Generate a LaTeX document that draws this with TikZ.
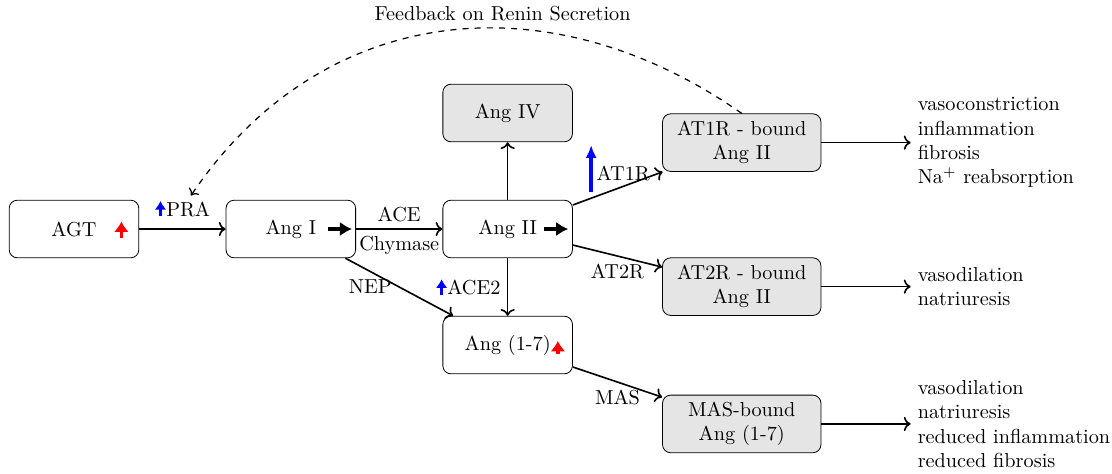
\documentclass[tikz,border=0pt]{standalone}
\usepackage{amsmath,amssymb}
\usepackage{tikz}
\usetikzlibrary{arrows.meta,positioning}

% small coloured "increase" arrows used inside labels
\newcommand{\upsmall}{\tikz[baseline=0pt]\draw[blue, line width=1.3pt, -{Latex[length=1.5mm,width=2mm]}] (0,0) -- (0,0.27);}
\newcommand{\upbig}{\smash{\tikz[baseline=0pt]\draw[blue, line width=1.8pt, -{Latex[length=2.2mm,width=1.9mm]}] (0,-0.2) -- (0,0.62);}}

\begin{document}
\begin{tikzpicture}[
  node distance=1.5cm,
  box/.style={draw, rounded corners, align=center, minimum width=2.25cm, minimum height=1cm},
  rbox/.style={box, fill=gray!20, minimum width=2.75cm},
  effect/.style={align=left},
  arrow/.style={->, thick},
  redup/.style={red, line width=1.7pt, -{Latex[length=1.8mm,width=2.6mm]}},
  blackright/.style={black, line width=1.7pt, -{Latex[length=2.1mm,width=2.5mm]}}
]
\useasboundingbox (-1.285,-4.253) rectangle (18.02,3.976);

\node[box] (agt) at (0,0) {AGT};
\node[box, right=of agt] (angI) {Ang I};
\node[box, right=of angI] (angII) {Ang II};
\node[box, fill=gray!20, above=1cm of angII] (angIV) {Ang IV};
\node[box, below=1cm of angII] (ang17) {Ang (1-7)};

\node[rbox, right=1.55cm of angII, yshift=1.5cm] (at1r) {AT1R - bound\\Ang II};
\node[rbox, right=1.55cm of angII, yshift=-1cm] (at2r) {AT2R - bound\\Ang II};
\node[rbox, right=1.55cm of ang17, yshift=-1.37cm] (mas) {MAS-bound\\Ang (1-7)};

\node[effect, right=1.55cm of at1r] (effAT1) {vasoconstriction\\inflammation\\fibrosis\\Na$^+$ reabsorption};
\node[effect, right=1.55cm of at2r] (effAT2) {vasodilation\\natriuresis};
\node[effect, right=1.55cm of mas] (effMAS) {vasodilation\\natriuresis\\reduced inflammation\\reduced fibrosis};

% increase / decrease marks inside the boxes
\draw[redup] ([xshift=-3.1mm,yshift=-1.6mm]agt.east) -- ([xshift=-3.1mm,yshift=1.3mm]agt.east);
\draw[redup] ([xshift=-2.6mm,yshift=-1.6mm]ang17.east) -- ([xshift=-2.6mm,yshift=0.7mm]ang17.east);
\draw[blackright] ([xshift=-4.9mm]angI.east) -- ([xshift=-0.7mm]angI.east);
\draw[blackright] ([xshift=-5mm]angII.east) -- ([xshift=-0.8mm]angII.east);

\draw[arrow] (agt) -- node[above, yshift=2pt] {\upsmall PRA} (angI);
\draw[arrow] (angI) -- node[above] {ACE} node[below] {Chymase} (angII);
\draw[arrow] (angII) -- (angIV);
\draw[arrow] (angII) -- node[left] {\upsmall ACE2} (ang17);
\draw[arrow] (angI) -- node[left] {NEP} (ang17);
\draw[arrow] (angII) -- node[above] {\upbig AT1R} (at1r);
\draw[arrow] (angII) -- node[below] {AT2R} (at2r);
\draw[arrow] (ang17) -- node[below] {MAS} (mas);

\draw[arrow] (at1r) -- (effAT1);
\draw[arrow] (at2r) -- (effAT2);
\draw[arrow] (mas) -- (effMAS);

% feedback loop
\coordinate (fb) at (2.03,0.58);
\draw[->, semithick, dashed] (at1r.north) to[out=145, in=56, looseness=1.08]
  node[above, pos=0.4] {Feedback on Renin Secretion} (fb);
\end{tikzpicture}
\end{document}
